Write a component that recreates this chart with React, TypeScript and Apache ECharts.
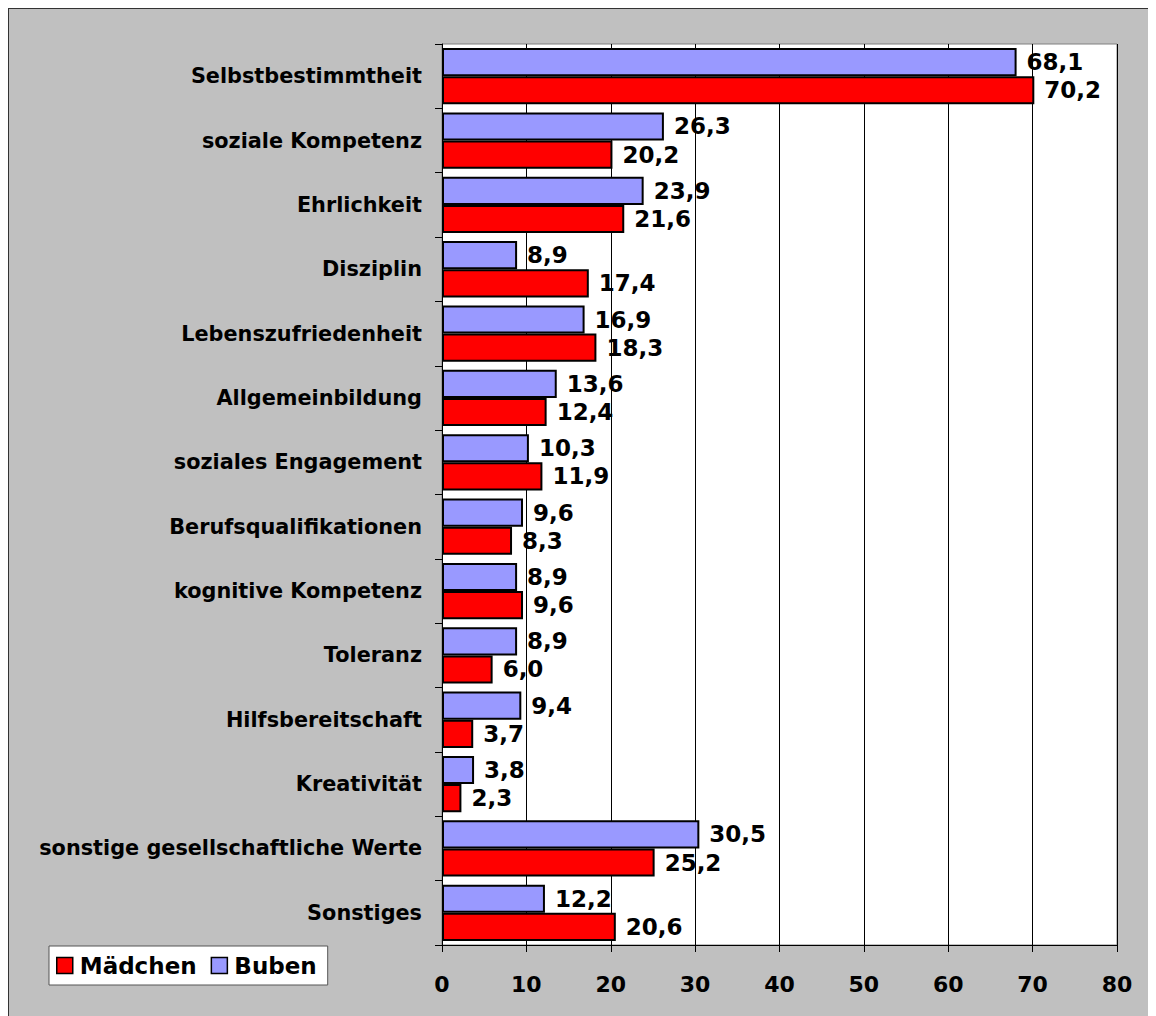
import React, { useEffect, useRef } from "react";
import * as echarts from "echarts";

const categories = [
  "Selbstbestimmtheit",
  "soziale Kompetenz",
  "Ehrlichkeit",
  "Disziplin",
  "Lebenszufriedenheit",
  "Allgemeinbildung",
  "soziales Engagement",
  "Berufsqualifikationen",
  "kognitive Kompetenz",
  "Toleranz",
  "Hilfsbereitschaft",
  "Kreativität",
  "sonstige gesellschaftliche Werte",
  "Sonstiges",
];
const buben = [68.1, 26.3, 23.9, 8.9, 16.9, 13.6, 10.3, 9.6, 8.9, 8.9, 9.4, 3.8, 30.5, 12.2];
const maedchen = [70.2, 20.2, 21.6, 17.4, 18.3, 12.4, 11.9, 8.3, 9.6, 6.0, 3.7, 2.3, 25.2, 20.6];
const xTicks = { min: 0, max: 80, interval: 10 };

const FONT = "DejaVu Sans";

export default function App() {
  const ref = useRef<HTMLDivElement>(null);
  useEffect(() => {
    if (!ref.current) return;
    const chart = echarts.init(ref.current, null, { renderer: "svg" });
    const fmt = (p: any) => Number(p.value).toFixed(1).replace(".", ",");
    const label = {
      show: true,
      position: "right",
      distance: 10,
      formatter: fmt,
      fontFamily: FONT,
      fontWeight: "bold",
      fontSize: 23,
      color: "#000",
    };
    chart.setOption({
      animation: false,
      backgroundColor: "#C0C0C0",
      legend: {
        data: ["Mädchen", "Buben"],
        left: 40,
        top: 937,
        orient: "horizontal",
        backgroundColor: "#fff",
        borderColor: "#555",
        borderWidth: 1,
        padding: [8, 11, 8, 7],
        itemWidth: 16,
        itemHeight: 16,
        itemGap: 14,
        icon: "rect",
        itemStyle: { borderColor: "#000", borderWidth: 1.5 },
        textStyle: { fontFamily: FONT, fontWeight: "bold", fontSize: 23, color: "#000", padding: [0, 0, 0, 2] },
      },
      grid: {
        left: 433,
        right: 39,
        top: 35,
        bottom: 71,
        show: true,
        backgroundColor: "#fff",
        borderColor: "#808080",
        borderWidth: 1,
      },
      xAxis: {
        type: "value",
        min: xTicks.min,
        max: xTicks.max,
        interval: xTicks.interval,
        axisLine: { show: true, lineStyle: { color: "#000", width: 1 } },
        axisTick: { show: true, length: 7, lineStyle: { color: "#000" } },
        splitLine: { show: true, lineStyle: { color: "#000", width: 1 } },
        axisLabel: {
          fontFamily: FONT,
          fontWeight: "bold",
          fontSize: 22,
          color: "#000",
          margin: 28,
        },
      },
      yAxis: {
        type: "category",
        data: categories,
        inverse: true,
        axisLine: { show: true, lineStyle: { color: "#000", width: 1 } },
        axisTick: { show: true, length: 7, lineStyle: { color: "#000" } },
        axisLabel: {
          fontFamily: FONT,
          fontWeight: "bold",
          fontSize: 20.8,
          color: "#000",
          margin: 20,
        },
        splitLine: { show: false },
      },
      series: [
        {
          name: "Buben",
          type: "bar",
          data: buben,
          barGap: "0%",
          barCategoryGap: "12.5%",
          itemStyle: { color: "#9999FF", borderColor: "#000", borderWidth: 2 },
          label,
        },
        {
          name: "Mädchen",
          type: "bar",
          data: maedchen,
          barGap: "0%",
          barCategoryGap: "12.5%",
          itemStyle: { color: "#FF0000", borderColor: "#000", borderWidth: 2 },
          label,
        },
      ],
    });
    return () => chart.dispose();
  }, []);
  return (
    <div
      ref={ref}
      style={{
        width: 1148,
        height: 1008,
        boxSizing: "border-box",
        borderLeft: "1px solid #333",
        borderTop: "1px solid #333",
      }}
    />
  );
}
